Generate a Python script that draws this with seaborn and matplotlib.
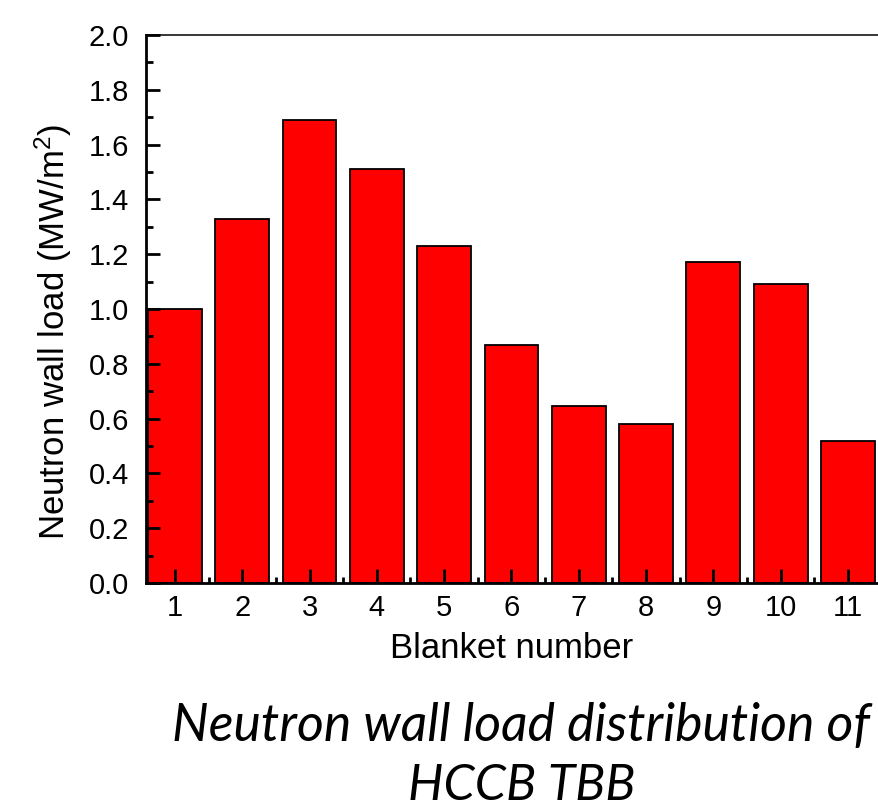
import matplotlib
matplotlib.use("Agg")
import matplotlib.pyplot as plt
import seaborn as sns
import numpy as np
import pandas as pd

# ---- data ----
blankets = ["1", "2", "3", "4", "5", "6", "7", "8", "9", "10", "11"]
wall_load = [1.00, 1.33, 1.69, 1.51, 1.23, 0.87, 0.645, 0.58, 1.17, 1.09, 0.52]
y_ticks = [0.0, 0.2, 0.4, 0.6, 0.8, 1.0, 1.2, 1.4, 1.6, 1.8, 2.0]
x_label = "Blanket number"
y_label = "Neutron wall load (MW/m$^2$)"
caption_line1 = "Neutron wall load distribution of"
caption_line2 = "HCCB TBB"

sns.set_style("white")
plt.rcParams["font.family"] = ["Liberation Sans", "DejaVu Sans"]
plt.rcParams["mathtext.fontset"] = "custom"
plt.rcParams["mathtext.rm"] = "Liberation Sans"
plt.rcParams["mathtext.it"] = "Liberation Sans"
plt.rcParams["mathtext.default"] = "regular"
plt.rcParams["text.color"] = "black"
plt.rcParams["axes.labelcolor"] = "black"
plt.rcParams["xtick.color"] = "black"
plt.rcParams["ytick.color"] = "black"

df = pd.DataFrame({"blanket": blankets, "load": wall_load})

fig = plt.figure(figsize=(8.79, 8.09), dpi=100)
ax = fig.add_axes([146 / 879, 226 / 809, 735.6 / 879, 548 / 809])

sns.barplot(data=df, x="blanket", y="load", color="#ff0000", saturation=1,
            edgecolor="black", linewidth=1.3, width=0.8, ax=ax)

ax.set_axisbelow(False)
ax.set_xlim(-0.43, 10.5)
ax.set_ylim(0, 2.0)
ax.set_yticks(y_ticks)
ax.set_yticklabels([f"{v:.1f}" for v in y_ticks])
ax.set_yticks(np.arange(0.1, 2.0, 0.2), minor=True)
ax.set_xticks(np.arange(len(blankets)))
ax.set_xticklabels(blankets)
ax.set_xticks(np.arange(0.5, len(blankets) - 0.5, 1.0), minor=True)

ax.tick_params(axis="both", which="both", bottom=True, left=True,
               top=False, right=False, direction="in", color="black",
               labelcolor="black")
ax.tick_params(axis="both", which="major", length=10, width=2, labelsize=21)
ax.tick_params(axis="both", which="minor", length=5, width=2)
ax.tick_params(axis="y", which="major", pad=12)
ax.tick_params(axis="x", which="major", pad=8)
ax.tick_params(axis="x", which="minor", length=4)

for side in ["left", "bottom"]:
    ax.spines[side].set_linewidth(2.0)
    ax.spines[side].set_color("black")
for side in ["top", "right"]:
    ax.spines[side].set_linewidth(1.1)
    ax.spines[side].set_color("black")

ax.set_xlabel(x_label, fontsize=25)
ax.set_ylabel(y_label, fontsize=25)
ax.xaxis.set_label_coords((512 - 146) / 735.6, -(658 - 583) / 548)
ax.xaxis.label.set_va("baseline")
ax.yaxis.set_label_coords((53 - 146) / 735.6, (583 - 332) / 548)
ax.yaxis.label.set_va("center")

fig.text(521 / 879, 1 - 741 / 809, caption_line1, ha="center", va="baseline",
         fontsize=37.3, style="italic", family=["Lato", "DejaVu Sans"])
fig.text(522 / 879, 1 - 800 / 809, caption_line2, ha="center", va="baseline",
         fontsize=36, style="italic", family=["Lato", "DejaVu Sans"])

fig.savefig("out.png", dpi=100)
